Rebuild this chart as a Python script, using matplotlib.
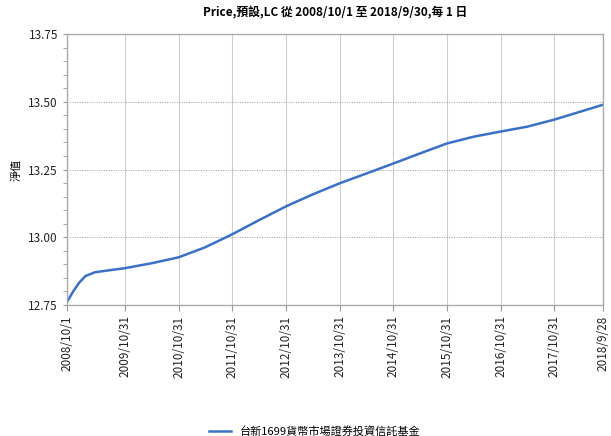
import matplotlib
matplotlib.use("Agg")
import matplotlib.pyplot as plt
import pandas as pd
from matplotlib.ticker import MultipleLocator, FormatStrFormatter

plt.rcParams['font.family'] = ['Noto Sans CJK TC', 'DejaVu Sans']

dates = ["2008-10-01", "2008-11-12", "2008-12-24", "2009-02-04", "2009-04-10",
         "2009-10-31", "2010-04-30", "2010-10-31", "2011-04-30", "2011-10-31",
         "2012-04-30", "2012-10-31", "2013-04-30", "2013-10-31", "2014-04-30",
         "2014-10-31", "2015-04-30", "2015-10-31", "2016-04-30", "2016-10-31",
         "2017-04-30", "2017-10-31", "2018-09-28"]
values = [12.761, 12.800, 12.833, 12.857, 12.871,
          12.886, 12.904, 12.926, 12.963, 13.011,
          13.063, 13.114, 13.158, 13.199, 13.235,
          13.272, 13.309, 13.346, 13.371, 13.390,
          13.408, 13.434, 13.489]
tick_dates = ["2008-10-01", "2009-10-31", "2010-10-31", "2011-10-31", "2012-10-31",
              "2013-10-31", "2014-10-31", "2015-10-31", "2016-10-31", "2017-10-31",
              "2018-09-28"]
tick_labels = ["2008/10/1", "2009/10/31", "2010/10/31", "2011/10/31", "2012/10/31",
               "2013/10/31", "2014/10/31", "2015/10/31", "2016/10/31", "2017/10/31",
               "2018/9/28"]
series_name = "台新1699貨幣市場證券投資信託基金"
title = "Price,預設,LC 從 2008/10/1 至 2018/9/30,每 1 日"

x = pd.to_datetime(dates)
xt = pd.to_datetime(tick_dates)

fig = plt.figure(figsize=(6.11, 4.36), dpi=100)
ax = fig.add_axes([67/611, 1-305/436, (603-67)/611, (305-34)/436])

ax.plot(x, values, color="#3a70c8", lw=1.8, label=series_name)

ax.set_xlim(xt[0], xt[-1])
ax.set_ylim(12.75, 13.75)
ax.set_xticks(xt)
ax.set_xticklabels(tick_labels, rotation=90, fontsize=8.5, color="#222222")
ax.yaxis.set_major_locator(MultipleLocator(0.25))
ax.yaxis.set_minor_locator(MultipleLocator(0.05))
ax.yaxis.set_major_formatter(FormatStrFormatter("%.2f"))
ax.tick_params(axis='y', which='both', length=3, color="#999999", labelsize=8.5,
               labelcolor="#222222")
ax.tick_params(axis='x', length=4, color="#999999", labelsize=8.5)

ax.grid(axis='x', color="#cccccc", lw=0.8, ls='-')
ax.grid(axis='y', color="#999999", lw=0.7, ls=(0, (1, 1.5)))
for s in ax.spines.values():
    s.set_color("#aaaaaa")
    s.set_linewidth(1.0)

ax.set_ylabel("淨值", fontsize=8)
ax.yaxis.set_label_coords(-0.085, 0.5)
fig.suptitle(title, fontsize=8.5, fontweight='bold', y=0.985, x=(67+603)/2/611)

fig.legend(loc='lower center', bbox_to_anchor=(315/611, -0.025), frameon=False,
           fontsize=8, handlelength=2)

fig.savefig("out.png", dpi=100)
